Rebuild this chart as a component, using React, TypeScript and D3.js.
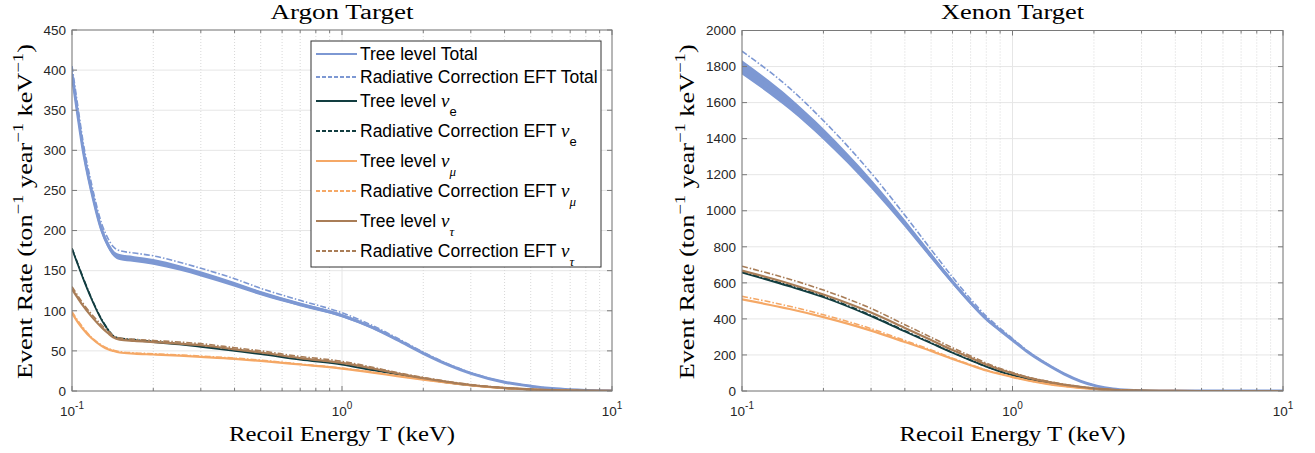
import React from 'react';
import * as d3 from 'd3';

// ---------------- DATA ----------------
const argonEnergy = [0.1, 0.105, 0.11, 0.118, 0.129, 0.136, 0.142, 0.15, 0.17, 0.2, 0.25, 0.3, 0.4, 0.5, 0.7, 1.0, 1.3, 1.6, 2.0, 2.5, 3.0, 4.0, 5.0, 6.0, 7.0, 8.0, 10.0];
const argonTotalTree = [395, 345, 300, 250, 200, 182, 172, 167, 164.5, 161, 153.5, 146, 133, 122, 108, 94, 79, 64, 47, 32, 22, 11, 6, 3, 1.5, 0.7, 0.2];
const argonTotalRad = [405, 356, 310, 259, 208, 190, 180, 175, 172, 168.5, 160.5, 153, 140, 128, 113, 97.5, 81.5, 66, 48.5, 33, 22.8, 11.4, 6.2, 3.1, 1.5, 0.7, 0.2];
const argonNeTree = [177, 158, 140, 115, 88, 76, 68, 65, 63, 61, 58, 55, 50, 46, 39, 33, 26, 21, 15, 10, 7, 3.5, 1.8, 0.9, 0.5, 0.3, 0.1];
const argonNeRad = [178, 159, 141, 116, 89, 77, 69, 66, 64, 62, 59, 56, 51, 47, 40, 34, 27, 21.5, 15.5, 10.3, 7.2, 3.6, 1.8, 0.9, 0.5, 0.3, 0.1];
const argonNmTree = [97, 86, 77, 66, 56, 52, 50, 48, 46.5, 45.5, 44, 42.5, 40, 37.5, 33, 28, 23, 18.5, 14, 10, 7, 3.5, 1.8, 0.9, 0.5, 0.3, 0.1];
const argonNmRad = [99, 88, 79, 67, 57, 53, 51, 49, 47.5, 46.5, 45, 43.5, 41, 38.5, 33.5, 28.5, 23.5, 19, 14.3, 10.2, 7.1, 3.5, 1.8, 0.9, 0.5, 0.3, 0.1];
const argonNtTree = [127, 116, 106, 93, 79, 72, 67, 64, 62.5, 61, 59, 57, 52, 48, 41, 35, 28, 22, 16, 11, 7.5, 3.8, 2, 1, 0.5, 0.3, 0.1];
const argonNtRad = [130, 119, 109, 96, 82, 75, 69, 66, 64.5, 63, 61, 59, 54, 50, 43, 37, 29.5, 23, 17, 11.5, 8, 4, 2, 1, 0.5, 0.3, 0.1];

const xenonEnergy = [0.1, 0.15, 0.2, 0.3, 0.4, 0.5, 0.6, 0.7, 0.8, 0.9, 1.0, 1.15, 1.34, 1.55, 1.78, 2.05, 2.35, 2.7, 3.0, 3.5, 4.0, 5.0, 6.0, 8.0, 10.0];
const xenonTotalTree = [1795, 1595, 1425, 1150, 930, 750, 605, 490, 400, 337, 283, 212, 148, 95, 55, 27, 11, 4, 1.8, 0.5, 0.2, 0, 0, 0, 0];
const xenonTotalRad = [1885, 1680, 1500, 1210, 975, 785, 632, 510, 415, 348, 291, 217, 151, 97, 56, 27.5, 11.2, 4, 1.8, 0.5, 0.2, 0, 0, 0, 0];
const xenonNeTree = [657, 580, 520, 415, 330, 265, 212, 170, 135, 108, 88, 64, 46, 31, 20, 11, 6, 2.5, 1.5, 0.5, 0.2, 0, 0, 0, 0];
const xenonNeRad = [662, 585, 525, 420, 334, 268, 214, 172, 136, 109, 89, 65, 46.5, 31.5, 20, 11, 6, 2.5, 1.5, 0.5, 0.2, 0, 0, 0, 0];
const xenonNmTree = [508, 455, 410, 335, 272, 222, 178, 143, 114, 94, 77, 57, 40, 27, 17, 10, 5, 2, 1.3, 0.4, 0.2, 0, 0, 0, 0];
const xenonNmRad = [525, 470, 423, 346, 280, 228, 182, 146, 116, 95.5, 78.5, 58, 40.5, 27.5, 17.2, 10, 5, 2, 1.3, 0.4, 0.2, 0, 0, 0, 0];
const xenonNtTree = [668, 595, 535, 435, 350, 283, 227, 184, 147, 119, 98, 73, 52, 35, 23, 13, 7, 3, 2, 0.6, 0.3, 0, 0, 0, 0];
const xenonNtRad = [692, 620, 560, 458, 368, 298, 240, 194, 155, 125, 103, 76, 55, 37, 24, 13.5, 7.5, 3, 2, 0.6, 0.3, 0, 0, 0, 0];

const argonYTicks = [0, 50, 100, 150, 200, 250, 300, 350, 400, 450];
const xenonYTicks = [0, 200, 400, 600, 800, 1000, 1200, 1400, 1600, 1800, 2000];
const xTickExponents = [-1, 0, 1];
const panelTitles = ['Argon Target', 'Xenon Target'];
const xAxisLabel = 'Recoil Energy T (keV)';

const legendEntries = [
  { label: 'Tree level Total', sym: '', sub: '', key: 'total', dashed: false },
  { label: 'Radiative Correction EFT Total', sym: '', sub: '', key: 'total', dashed: true },
  { label: 'Tree level ', sym: 'ν', sub: 'e', key: 'ne', dashed: false },
  { label: 'Radiative Correction EFT ', sym: 'ν', sub: 'e', key: 'ne', dashed: true },
  { label: 'Tree level ', sym: 'ν', sub: 'μ', key: 'nm', dashed: false },
  { label: 'Radiative Correction EFT ', sym: 'ν', sub: 'μ', key: 'nm', dashed: true },
  { label: 'Tree level ', sym: 'ν', sub: 'τ', key: 'nt', dashed: false },
  { label: 'Radiative Correction EFT ', sym: 'ν', sub: 'τ', key: 'nt', dashed: true },
];

// ---------------- STYLE ----------------
const COLORS: Record<string, string> = { total: '#7d98d3', ne: '#123d40', nm: '#f5a866', nt: '#a97d57' };
const SANS = '"Liberation Sans", Arial, Helvetica, sans-serif';
const SERIF = '"Liberation Serif", "Times New Roman", serif';
const AXIS = '#7a7a7a';
const TXT = '#262626';
const RAD_DASH = '6,2,1.5,2';

type Series = { key: string; tree: number[]; rad: number[] };

function Panel(props: {
  idx: number; left: number; right: number; top: number; bottom: number;
  yMax: number; yTicks: number[]; energy: number[]; series: Series[];
  ylabelX: number;
}) {
  const { idx, left, right, top, bottom, yMax, yTicks, energy, series, ylabelX } = props;
  const xs = d3.scaleLog().domain([0.1, 10]).range([left, right]);
  const ys = d3.scaleLinear().domain([0, yMax]).range([bottom, top]);
  const lineGen = d3.line<number>().x((_, i) => xs(energy[i])).y((d) => ys(d)).curve(d3.curveMonotoneX);
  const bandGen = d3.area<number>().x((_, i) => xs(energy[i]))
    .y0((d) => ys(d * 0.978)).y1((d) => ys(d * 1.022)).curve(d3.curveMonotoneX);
  const minor: number[] = [];
  [0.1, 1].forEach((dec) => { for (let k = 2; k <= 9; k++) minor.push(k * dec); });
  const clipId = `clip${idx}`;
  const cx = (left + right) / 2;
  const cy = (top + bottom) / 2;

  return (
    <g>
      <defs>
        <clipPath id={clipId}><rect x={left} y={top} width={right - left} height={bottom - top} /></clipPath>
      </defs>
      <rect x={left} y={top} width={right - left} height={bottom - top} fill="#fff" />
      {/* grid */}
      {yTicks.map((t) => (
        <line key={'gy' + t} x1={left} x2={right} y1={ys(t)} y2={ys(t)} stroke="#e6e6e6" strokeWidth={1} />
      ))}
      {minor.map((m) => (
        <line key={'gm' + m} x1={xs(m)} x2={xs(m)} y1={top} y2={bottom} stroke="#d8d8d8" strokeWidth={1} strokeDasharray="1,2" />
      ))}
      {xTickExponents.map((e) => (
        <line key={'gx' + e} x1={xs(Math.pow(10, e))} x2={xs(Math.pow(10, e))} y1={top} y2={bottom} stroke="#e6e6e6" strokeWidth={1} />
      ))}
      {/* curves */}
      <g clipPath={`url(#${clipId})`}>
        {series.map((s) => (
          <g key={s.key}>
            {s.key === 'total' && <path d={bandGen(s.tree) || ''} fill={COLORS.total} stroke="none" />}
            <path d={lineGen(s.tree) || ''} fill="none" stroke={COLORS[s.key]} strokeWidth={s.key === 'total' ? 3 : s.key === 'ne' ? 1.8 : 2.2} />
            <path d={lineGen(s.rad) || ''} fill="none" stroke={COLORS[s.key]} strokeWidth={1.6} strokeDasharray={RAD_DASH} />
          </g>
        ))}
      </g>
      {/* axes box */}
      <rect x={left} y={top} width={right - left} height={bottom - top} fill="none" stroke={AXIS} strokeWidth={1} />
      {/* y ticks */}
      {yTicks.map((t) => (
        <g key={'yt' + t}>
          <line x1={left} x2={left + 5} y1={ys(t)} y2={ys(t)} stroke={AXIS} />
          <line x1={right} x2={right - 5} y1={ys(t)} y2={ys(t)} stroke={AXIS} />
          <text x={left - 6} y={ys(t)} dy="0.35em" textAnchor="end" fontFamily={SANS} fontSize={13.5} fill={TXT}>{t}</text>
        </g>
      ))}
      {/* x ticks */}
      {minor.map((m) => (
        <g key={'xm' + m}>
          <line x1={xs(m)} x2={xs(m)} y1={bottom} y2={bottom - 3} stroke={AXIS} />
          <line x1={xs(m)} x2={xs(m)} y1={top} y2={top + 3} stroke={AXIS} />
        </g>
      ))}
      {xTickExponents.map((e) => {
        const px = xs(Math.pow(10, e));
        return (
          <g key={'xt' + e}>
            <line x1={px} x2={px} y1={bottom} y2={bottom - 5} stroke={AXIS} />
            <line x1={px} x2={px} y1={top} y2={top + 5} stroke={AXIS} />
            <text x={px} y={bottom + 25} textAnchor="middle" fontFamily={SANS} fontSize={13.5} fill={TXT}>
              10<tspan dy={-7} fontSize={10}>{String(e)}</tspan>
            </text>
          </g>
        );
      })}
      {/* title */}
      <text x={cx} y={19} textAnchor="middle" fontFamily={SERIF} fontSize={20} fill="#000"
        textLength={143} lengthAdjust="spacingAndGlyphs">{panelTitles[idx]}</text>
      {/* x label */}
      <text x={cx} y={441} textAnchor="middle" fontFamily={SERIF} fontSize={21} fill="#000"
        textLength={226} lengthAdjust="spacingAndGlyphs">{xAxisLabel}</text>
      {/* y label */}
      <text transform={`translate(${ylabelX},${cy + 1}) rotate(-90)`} textAnchor="middle" fontFamily={SERIF}
        fontSize={21} fill="#000" textLength={335} lengthAdjust="spacingAndGlyphs">
        Event Rate (ton<tspan dy={-9} fontSize={15}>−1</tspan><tspan dy={9}> year</tspan>
        <tspan dy={-9} fontSize={15}>−1</tspan><tspan dy={9}> keV</tspan>
        <tspan dy={-9} fontSize={15}>−1</tspan><tspan dy={9}>)</tspan>
      </text>
    </g>
  );
}

function Legend() {
  const x0 = 311, x1 = 601, y0 = 41, y1 = 267;
  let y = 54;
  const rows: { e: typeof legendEntries[number]; y: number }[] = [];
  legendEntries.forEach((e, i) => {
    if (i > 0) {
      const prevSub = legendEntries[i - 1].sub !== '';
      const curSub = e.sub !== '';
      y += (prevSub ? 17.5 : 11.5) + (curSub ? 12.5 : 11.5);
    }
    rows.push({ e, y });
  });
  return (
    <g>
      <rect x={x0} y={y0} width={x1 - x0} height={y1 - y0} fill="#fff" stroke="#333" strokeWidth={1} />
      {rows.map(({ e, y }, i) => (
        <g key={i}>
          <line x1={316} x2={357} y1={y} y2={y} stroke={COLORS[e.key]} strokeWidth={2}
            strokeDasharray={e.dashed ? '4,2' : undefined} />
          <text x={360} y={y + 6} fontFamily={SANS} fontSize={17.5} fill="#000">
            {e.label}
            {e.sym && <tspan fontFamily={SERIF} fontStyle="italic" fontSize={19}>{e.sym}</tspan>}
            {e.sub && (
              <tspan dy={9} fontSize={13} fontFamily={e.sub === 'e' ? SANS : SERIF}
                fontStyle={e.sub === 'e' ? 'normal' : 'italic'}>{e.sub}</tspan>
            )}
          </text>
        </g>
      ))}
    </g>
  );
}

export default function App() {
  const argonSeries: Series[] = [
    { key: 'total', tree: argonTotalTree, rad: argonTotalRad },
    { key: 'ne', tree: argonNeTree, rad: argonNeRad },
    { key: 'nm', tree: argonNmTree, rad: argonNmRad },
    { key: 'nt', tree: argonNtTree, rad: argonNtRad },
  ];
  const xenonSeries: Series[] = [
    { key: 'total', tree: xenonTotalTree, rad: xenonTotalRad },
    { key: 'ne', tree: xenonNeTree, rad: xenonNeRad },
    { key: 'nm', tree: xenonNmTree, rad: xenonNmRad },
    { key: 'nt', tree: xenonNtTree, rad: xenonNtRad },
  ];
  return (
    <svg width={1315} height={453} style={{ position: 'absolute', left: 0, top: 0, background: '#fff' }}>
      <rect x={0} y={0} width={1315} height={453} fill="#fff" />
      <Panel idx={0} left={72} right={612} top={30} bottom={391} yMax={450} yTicks={argonYTicks}
        energy={argonEnergy} series={argonSeries} ylabelX={32} />
      <Panel idx={1} left={742} right={1283} top={30.5} bottom={391} yMax={2000} yTicks={xenonYTicks}
        energy={xenonEnergy} series={xenonSeries} ylabelX={694} />
      <Legend />
    </svg>
  );
}
